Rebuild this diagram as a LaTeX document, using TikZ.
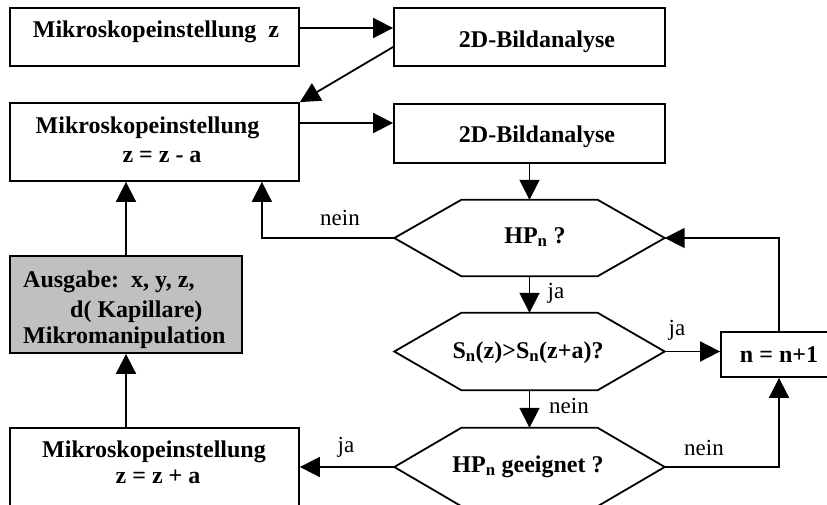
\documentclass[tikz,border=0pt]{standalone}
\usepackage{fontspec}
\setmainfont{Liberation Serif}
\usetikzlibrary{arrows.meta,calc}
\definecolor{boxgray}{HTML}{C0C0C0}
\newcommand\drawhexa[1]{\draw[line] (#1.west) -- ([xshift=67pt]#1.north west) -- ([xshift=-67pt]#1.north east) -- (#1.east) -- ([xshift=-67pt]#1.south east) -- ([xshift=67pt]#1.south west) -- cycle;}
\begin{document}
\begin{tikzpicture}[x=1pt,y=-1pt,
  line/.style={line width=1.8pt},
  arr/.style={line width=1.8pt, -{Triangle[length=20pt,width=20pt]}},
  box/.style={draw, line width=1.8pt, inner sep=0pt},
  hexa/.style={inner sep=0pt, minimum width=270pt, minimum height=76pt},
  bt/.style={font=\fontsize{24}{28}\selectfont\bfseries, inner sep=0pt, anchor=base},
  lt/.style={font=\fontsize{23}{27}\selectfont, inner sep=0pt, anchor=base}]
\useasboundingbox (0,0) rectangle (827,504);
\clip (0,0) rectangle (827,504);
% boxes
\node[box, minimum width=289pt, minimum height=58pt] (b1) at (154.5,37) {};
\node[box, minimum width=271pt, minimum height=58pt] (b2) at (529.5,37) {};
\node[box, minimum width=289pt, minimum height=78pt] (b3) at (154.5,142) {};
\node[box, minimum width=271pt, minimum height=59pt] (b4) at (529.5,133.5) {};
\node[box, fill=boxgray, minimum width=232pt, minimum height=97pt] (b5) at (126,304.5) {};
\node[box, minimum width=289pt, minimum height=100pt] (b6) at (154.5,478) {};
\node[box, minimum width=116pt, minimum height=45pt] (nb) at (779,354.5) {};
% hexagons
\node[hexa] (h1) at (529.5,238) {};
\node[hexa, minimum height=77pt] (h2) at (529.5,351.5) {};
\node[hexa, minimum height=78pt] (h3) at (529.5,467) {};
\drawhexa{h1}
\drawhexa{h2}
\drawhexa{h3}
% texts
\node[bt] (t1) at (156,37) {Mikroskopeinstellung\ \ z};
\node[bt] (t2) at (537,47) {2D-Bildanalyse};
\node[bt] (t3a) at (147.5,133) {Mikroskopeinstellung};
\node[bt] (t3b) at (162,162) {z = z - a};
\node[bt] (t4) at (537,142) {2D-Bildanalyse};
\node[bt] (th1) at (535,243) {HP\textsubscript{n} ?};
\node[bt] (th2) at (528,358) {S\textsubscript{n}(z)>S\textsubscript{n}(z+a)?};
\node[bt] (th3) at (528,472) {HP\textsubscript{n} geeignet ?};
\node[bt] (tn) at (779,362) {n = n+1};
\node[bt, anchor=base west] (t5a) at (23,287) {Ausgabe:\ \ x, y, z,};
\node[bt, anchor=base west] (t5b) at (70,317) {d( Kapillare)};
\node[bt, anchor=base west] (t5c) at (23,343) {Mikromanipulation};
\node[bt] (t6a) at (154,457) {Mikroskopeinstellung};
\node[bt] (t6b) at (158,483) {z = z + a};
% labels
\node[lt] (l1) at (340,225) {nein};
\node[lt] (l2) at (556,298) {ja};
\node[lt] (l3) at (677,335) {ja};
\node[lt] (l4) at (569,413) {nein};
\node[lt] (l5) at (704,455) {nein};
\node[lt] (l6) at (346,452) {ja};
% connectors
\draw[arr] ($(b1.east)+(0,-9)$) -- ($(b2.west)+(0,-9)$);
\draw[arr] ($(b2.west)+(0,10)$) -- (b3.north east);
\draw[arr] ($(b3.east)+(0,-19)$) -- ($(b4.west)+(0,-10.5)$);
\draw[arr] (b4.south) -- (h1.north);
\draw[arr] (h1.west) -| ($(b3.south east)+(-38,0)$);
\draw[arr] (nb.north) |- (h1.east);
\draw[arr] (h1.south) -- (h2.north);
\draw[arr] (h2.east) -- (h2.east -| nb.west);
\draw[arr] (h2.south) -- (h3.north);
\draw[arr] (h3.east) -| (nb.south);
\draw[arr] (h3.west) -- (h3.west -| b6.east);
\draw[arr] (b6.north -| b5.south) -- (b5.south);
\draw[arr] (b5.north) -- (b5.north |- b3.south);
\end{tikzpicture}
\end{document}
